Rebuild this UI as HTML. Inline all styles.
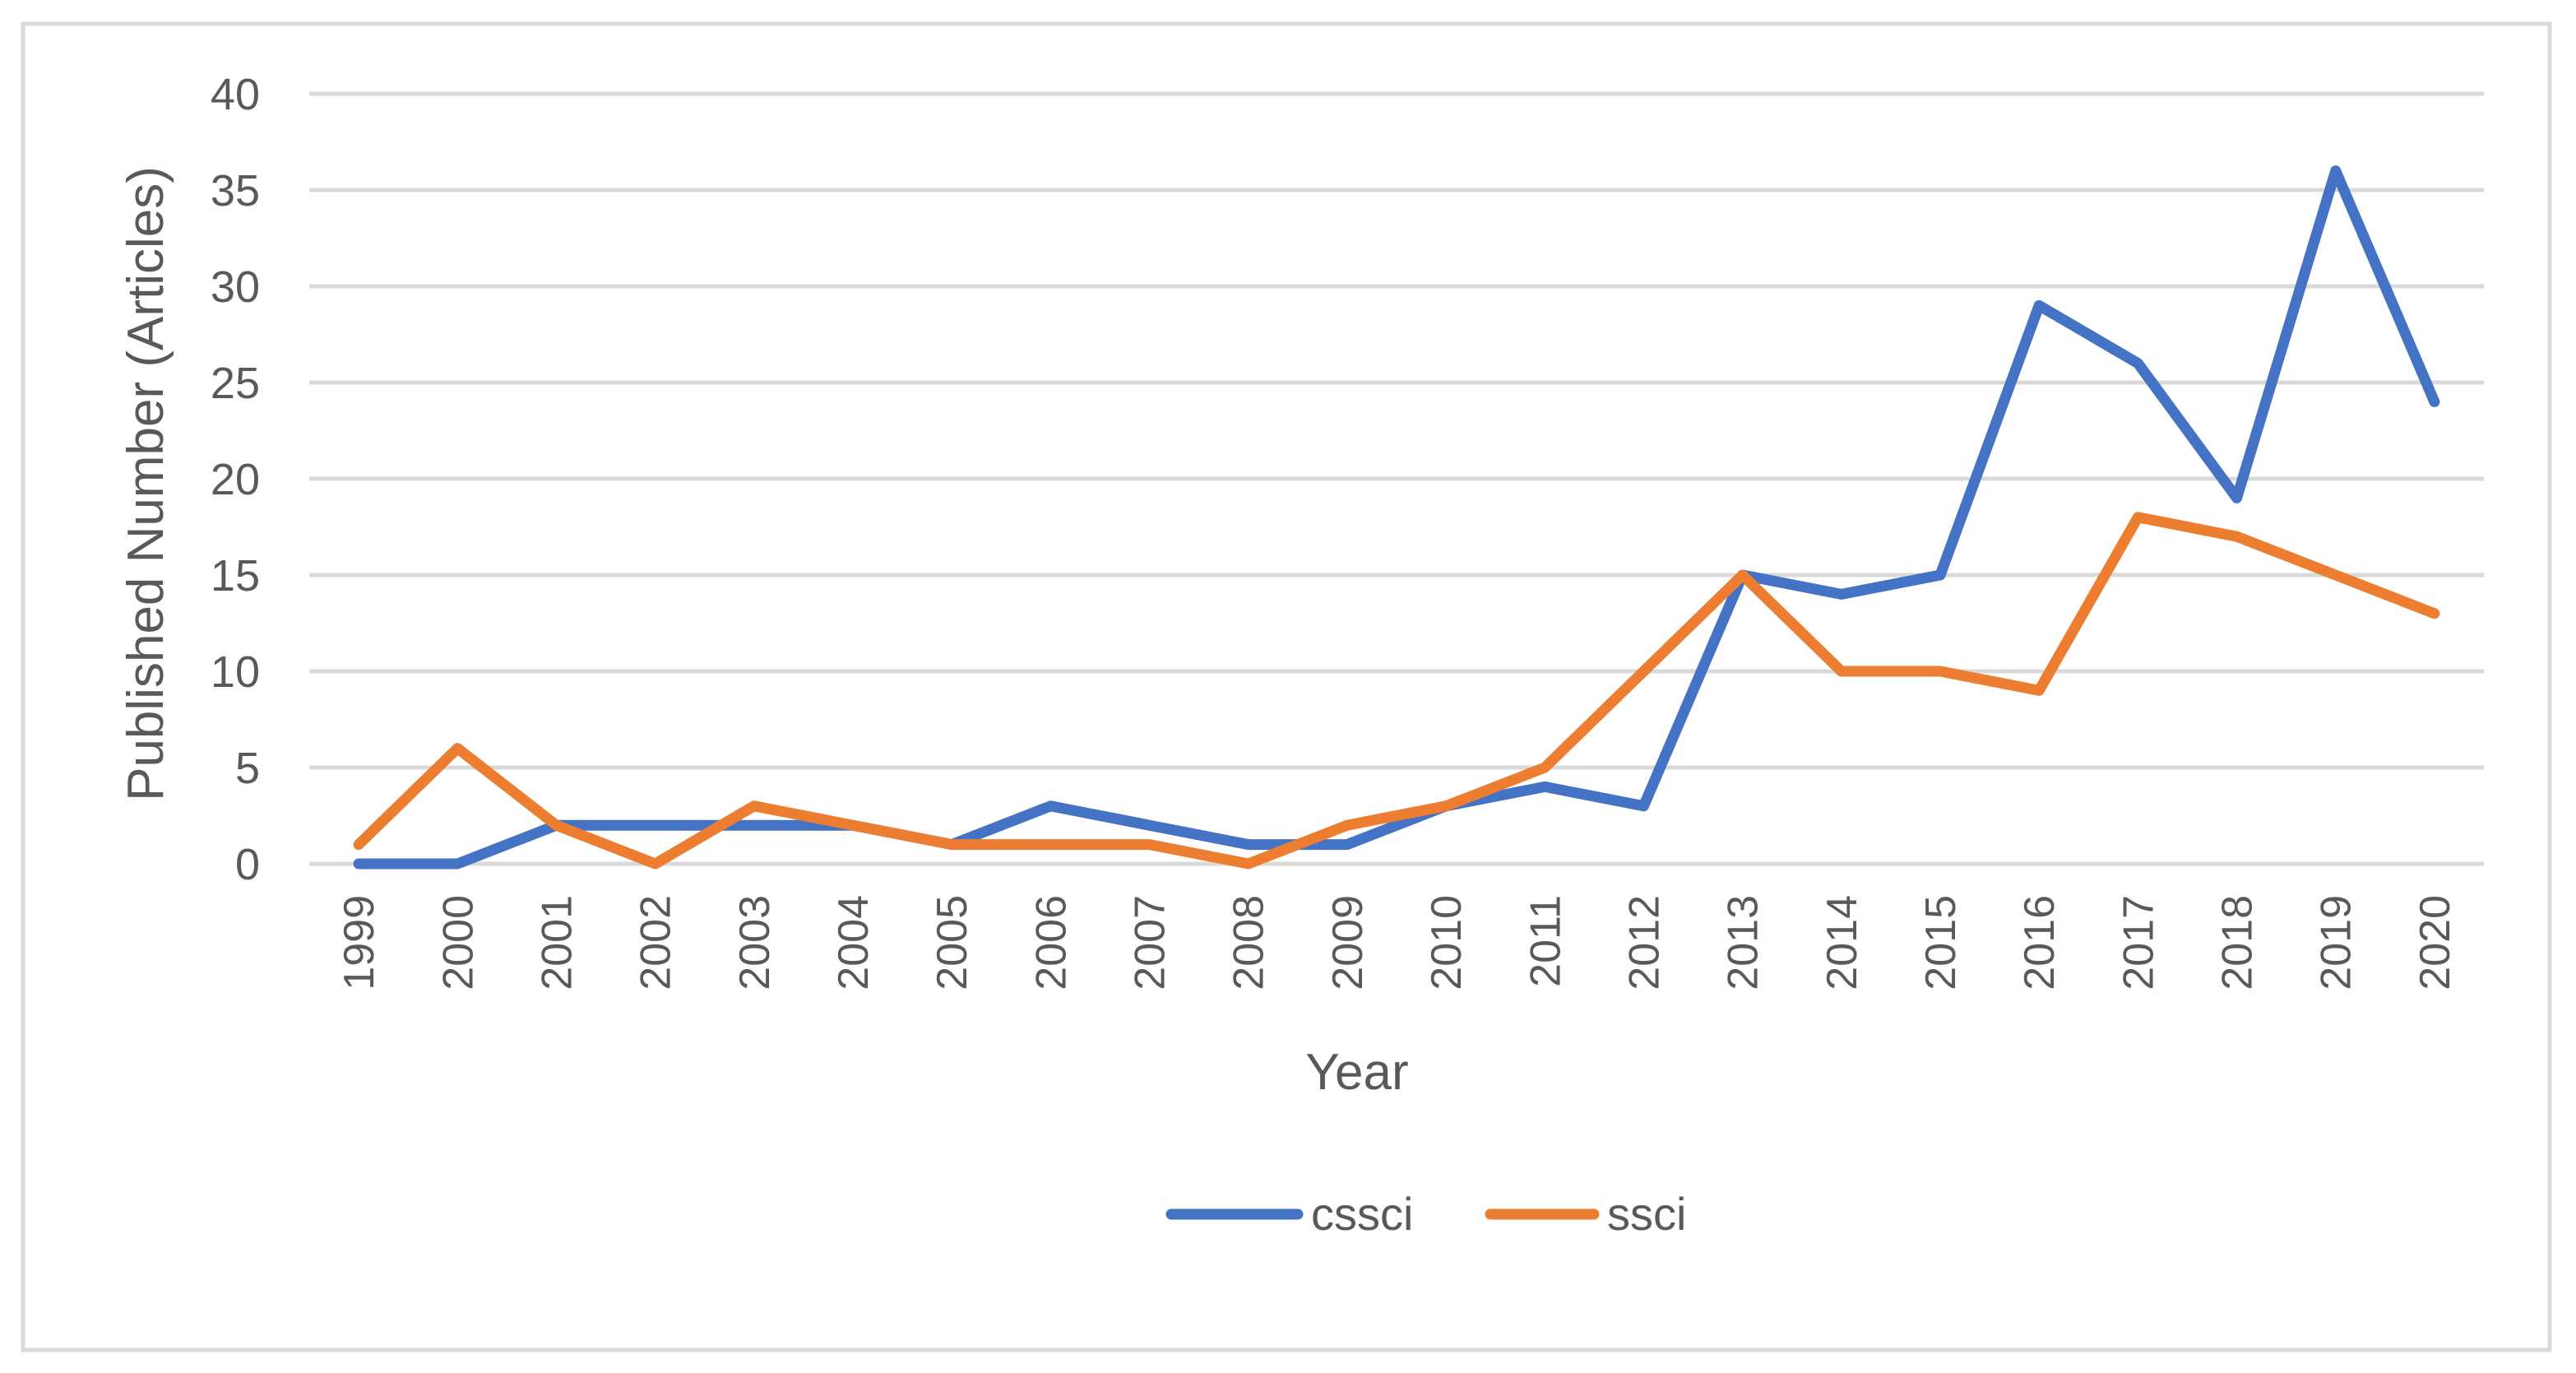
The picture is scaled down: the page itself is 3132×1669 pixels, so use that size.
<!DOCTYPE html>
<html><head><meta charset="utf-8">
<style>
html,body{margin:0;padding:0;background:#fff;}
svg{display:block;font-family:"Liberation Sans",sans-serif;}
</style></head>
<body>
<svg id="chart" width="3132" height="1669" viewBox="0 0 3132 1669" xmlns="http://www.w3.org/2000/svg">
<rect x="28" y="29" width="3072" height="1612" fill="#fff" stroke="#d9d9d9" stroke-width="5"/>
<g id="grid"></g>
<g id="xlabels"></g>
<g id="ylabels"></g>
<g id="series"></g>
<text transform="translate(198,588) rotate(-90)" text-anchor="middle" font-size="62" fill="#595959">Published Number (Articles)</text>
<text x="1650" y="1324" text-anchor="middle" font-size="62" fill="#595959">Year</text>
<g>
<g>
<line x1="1424" y1="1476" x2="1578" y2="1476" stroke="#4472c4" stroke-width="13" stroke-linecap="round"/>
<text x="1594" y="1495" font-size="56" fill="#595959">cssci</text>
</g>
<g>
<line x1="1812" y1="1476" x2="1938" y2="1476" stroke="#ed7d31" stroke-width="13" stroke-linecap="round"/>
<text x="1954" y="1495" font-size="56" fill="#595959">ssci</text>
</g>
</g>
</svg>
<script>
const categories = ["1999","2000","2001","2002","2003","2004","2005","2006","2007","2008","2009","2010","2011","2012","2013","2014","2015","2016","2017","2018","2019","2020"];
const cssciValues = [0,0,2,2,2,2,1,3,2,1,1,3,4,3,15,14,15,29,26,19,36,24];
const ssciValues = [1,6,2,0,3,2,1,1,1,0,2,3,5,10,15,10,10,9,18,17,15,13];
const yTicks = [0,5,10,15,20,25,30,35,40];

const NS = "http://www.w3.org/2000/svg";
const left = 376, right = 3020, y0 = 1050, yTop = 114, yMax = 40;
const step = (right - left) / categories.length;
function xPos(i){ return left + step * (i + 0.5); }
function yPos(v){ return y0 - (v / yMax) * (y0 - yTop); }

const grid = document.getElementById('grid');
const ylab = document.getElementById('ylabels');
yTicks.forEach(t => {
  const l = document.createElementNS(NS,'line');
  l.setAttribute('x1', left); l.setAttribute('x2', right);
  l.setAttribute('y1', yPos(t)); l.setAttribute('y2', yPos(t));
  l.setAttribute('stroke', '#d9d9d9'); l.setAttribute('stroke-width', '5');
  
  
  grid.appendChild(l);
  const tx = document.createElementNS(NS,'text');
  tx.setAttribute('x', 316); tx.setAttribute('y', yPos(t) + 19);
  tx.setAttribute('text-anchor', 'end'); tx.setAttribute('font-size', '54'); tx.setAttribute('fill', '#595959');
  tx.textContent = t;
  
  
  ylab.appendChild(tx);
});

const xlab = document.getElementById('xlabels');
categories.forEach((c, i) => {
  const tx = document.createElementNS(NS,'text');
  tx.setAttribute('transform', 'translate(' + (xPos(i) + 18) + ',1088) rotate(-90)');
  tx.setAttribute('text-anchor', 'end'); tx.setAttribute('font-size', '52'); tx.setAttribute('fill', '#595959');
  tx.textContent = c;
  
  
  xlab.appendChild(tx);
});

const series = document.getElementById('series');
function drawLine(vals, color, name){
  const p = document.createElementNS(NS,'polyline');
  p.setAttribute('points', vals.map((v,i) => xPos(i) + ',' + yPos(v)).join(' '));
  p.setAttribute('fill', 'none'); p.setAttribute('stroke', color);
  p.setAttribute('stroke-width', '13'); p.setAttribute('stroke-linejoin', 'round'); p.setAttribute('stroke-linecap', 'round');
  
  
  series.appendChild(p);
}
drawLine(cssciValues, '#4472c4', 'cssci-line');
drawLine(ssciValues, '#ed7d31', 'ssci-line');
</script>
</body></html>
